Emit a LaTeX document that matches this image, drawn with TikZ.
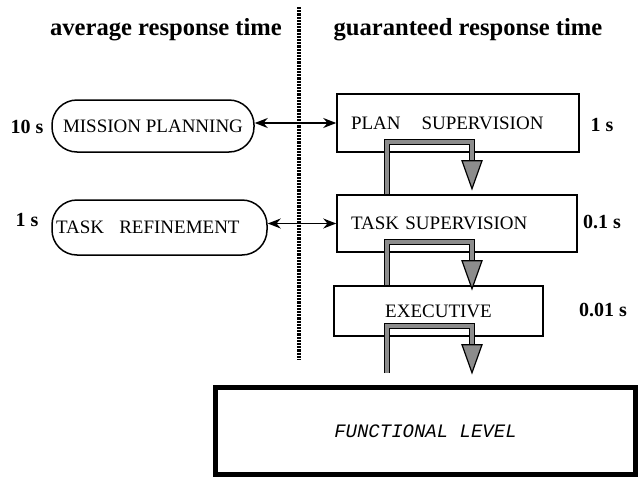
\documentclass[tikz,border=0pt]{standalone}
\usepackage{fontspec}
\setmainfont{Liberation Serif}
\setmonofont{Liberation Mono}
\usetikzlibrary{arrows.meta,calc}

\begin{document}
\begin{tikzpicture}[x=0.5pt, y=-0.5pt,
    lvl/.style={draw, line width=0.75pt, inner sep=0pt, font=\fontsize{9.5}{11}\selectfont},
    sq/.style={lvl, rectangle},
    rnd/.style={lvl, rectangle, rounded corners=12.5pt},
    tm/.style={font=\fontsize{10}{12}\selectfont\bfseries},
    hdr/.style={font=\fontsize{12.3}{14}\selectfont\bfseries, anchor=base},
    link/.style={{Stealth[length=6.5pt,width=5pt]}-{Stealth[length=6.5pt,width=5pt]}, line width=0.75pt},
    fb/.style={draw=black, line width=0.6pt, double=black!45, double distance=2pt},
    fbhead/.style={fill=black!45, draw=black, line width=0.6pt, line join=miter},
    divider/.style={line width=2.3pt, dash pattern=on 1.1pt off 0.5pt}]
  \useasboundingbox (0,0) rectangle (639,477);
  % column headings and divider
  \node[hdr] (avg) at (166,35) {average response time};
  \node[hdr] (guar) at (468,35) {guaranteed response time};
  \draw[divider] (299,7) -- (299,360);
  % decisional levels
  \node[rnd, minimum width=101pt, minimum height=26pt] (mission) at (153,126) {MISSION PLANNING};
  \node[rnd, minimum height=27.5pt, text width=103.5pt, inner xsep=2pt, align=left] (refine) at (159.5,227.5) {TASK\hspace{0.8em}REFINEMENT};
  \node[sq, minimum height=29pt, text width=107pt, inner xsep=7pt, align=left] (plan) at (458,123) {PLAN\hspace{1.1em}SUPERVISION};
  \node[sq, minimum height=28.5pt, text width=106pt, inner xsep=7pt, align=left] (tasksup) at (457,223.5) {TASK SUPERVISION};
  \node[sq, minimum width=104.5pt, minimum height=25pt] (exec) at (438.5,311) {EXECUTIVE};
  \node[draw, line width=2.5pt, minimum width=209.75pt, minimum height=43.25pt, inner sep=0pt,
        font=\fontsize{9.5}{11}\selectfont\ttfamily\itshape] (func) at (425.5,430.75) {FUNCTIONAL LEVEL};
  % response times
  \node[tm] (tmission) at (27,127) {10 s};
  \node[tm] (trefine) at (27,220) {1 s};
  \node[tm] (tplan) at (602,125) {1 s};
  \node[tm] (ttask) at (602,222) {0.1 s};
  \node[tm] (texec) at (603,310) {0.01 s};
  % links across the divider
  \draw[link] (mission.east |- plan.west) -- (plan.west);
  \draw[link] (refine.east |- tasksup.west) -- (tasksup.west);
  % feedback loops
  \coordinate (fbl) at (387,0);
  \coordinate (fbr) at (472,0);
  \foreach \a/\b/\e in {plan/tasksup/0, tasksup/exec/0, exec/func/12} {
    \draw[fb] ($(\b.north -| fbl)+(0,-\e)$) |- ($(\a.south -| fbr)+(0,-11)$) -- ++(0,19) coordinate (hd);
    \filldraw[fbhead] ($(hd)+(-10,0)$) -- ($(hd)+(10,0)$) -- ($(hd)+(0,28)$) -- cycle;
  }
\end{tikzpicture}
\end{document}
